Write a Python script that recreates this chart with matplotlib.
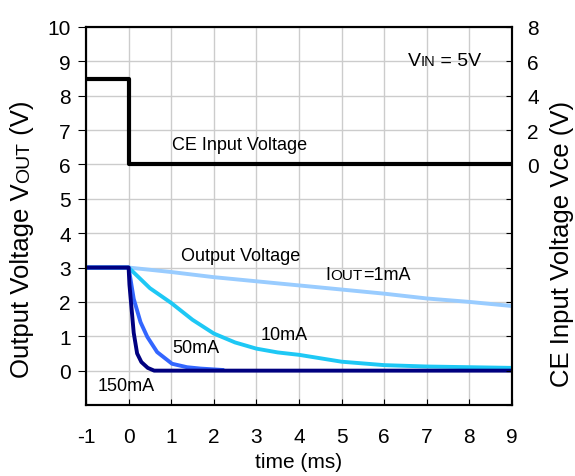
import numpy as np
import matplotlib
matplotlib.use("Agg")
import matplotlib.pyplot as plt
import matplotlib.transforms as mtransforms

plt.rcParams['font.family'] = ['Liberation Sans', 'DejaVu Sans']
plt.rcParams['axes.unicode_minus'] = False

# CE input voltage (right axis, V)
t_ce = [-1, 0, 0, 9]
v_ce = [5, 5, 0, 0]

# output voltage curves (left axis, V)
t_1ma = [-1, 0, 1, 2, 3, 4, 5, 6, 7, 8, 9]
v_1ma = [3.0, 3.0, 2.87, 2.72, 2.6, 2.48, 2.36, 2.24, 2.1, 2.0, 1.88]

t_10ma = [-1, 0, 0.5, 1, 1.5, 2, 2.5, 3, 3.5, 4, 5, 6, 7, 8, 9]
v_10ma = [3.0, 3.0, 2.4, 1.97, 1.48, 1.08, 0.82, 0.64, 0.53, 0.46, 0.26, 0.16, 0.12, 0.1, 0.08]

t_50ma = [-1, 0, 0.12, 0.28, 0.44, 0.67, 1.02, 1.37, 1.69, 2.2]
v_50ma = [3.0, 3.0, 2.09, 1.41, 0.98, 0.54, 0.2, 0.1, 0.06, 0.02]

t_150ma = [-1, 0, 0.02, 0.07, 0.12, 0.2, 0.3, 0.45, 0.6, 9]
v_150ma = [3.0, 3.0, 2.5, 1.8, 1.1, 0.5, 0.25, 0.08, 0.0, 0.0]

x_ticks = list(range(-1, 10))
left_ticks = list(range(0, 11))
right_ticks = list(range(-14, 9, 2))
right_labels = [str(v) if v >= 0 else '' for v in right_ticks]

fig = plt.figure(figsize=(5.75, 4.77), dpi=100)
ax = fig.add_axes([86 / 575, 1 - 406 / 477, 426 / 575, 378 / 477])

ax.set_xlim(-1, 9)
ax.set_ylim(-1, 10)
ax.set_xticks(x_ticks)
ax.set_yticks(left_ticks)
ax.grid(True, color='#cccccc', lw=1)
ax.set_axisbelow(True)
ax.tick_params(axis='x', direction='in', length=4, pad=16, labelsize=15)
ax.tick_params(axis='y', direction='out', length=6, pad=5, labelsize=15)

ax.plot(t_1ma, v_1ma, color='#99ccff', lw=2.8, zorder=3)
ax.plot(t_10ma, v_10ma, color='#1ec8f5', lw=2.8, zorder=4)
ax.plot(t_50ma, v_50ma, color='#3366ff', lw=2.8, zorder=5)
ax.plot(t_150ma, v_150ma, color='#000080', lw=2.8, zorder=6)

ax2 = ax.twinx()
ax2.set_ylim(-14, 8)
ax2.set_yticks(right_ticks)
ax2.set_yticklabels(right_labels)
ax2.tick_params(axis='y', direction='in', length=4, pad=11, labelsize=15)
ax2.plot(t_ce, v_ce, color='black', lw=3)

for a in (ax, ax2):
    for s in a.spines.values():
        s.set_linewidth(1.5)

ax.set_xlabel('time (ms)', fontsize=15, labelpad=4)

fig.canvas.draw()
renderer = fig.canvas.get_renderer()


def rich(x, y, parts, transform, rotation=0):
    # lay text pieces of different sizes along one baseline
    off = 0
    for s, size in parts:
        if rotation:
            tr = mtransforms.offset_copy(transform, fig=fig, x=0, y=off, units='dots')
        else:
            tr = mtransforms.offset_copy(transform, fig=fig, x=off, y=0, units='dots')
        t = fig.text(x, y, s, transform=tr, fontsize=size, rotation=rotation,
                     rotation_mode='anchor', ha='left', va='baseline')
        bb = t.get_window_extent(renderer)
        off += bb.height if rotation else bb.width


def text_len(parts):
    total = 0
    for s, size in parts:
        t = fig.text(0, 0, s, fontsize=size)
        total += t.get_window_extent(renderer).width
        t.remove()
    return total


ylab = [('Output Voltage V', 18.5), ('OUT', 14), (' (V)', 18.5)]
L = text_len(ylab)
rich(29 / 575, ((477 - 239) - L / 2) / 477, ylab, fig.transFigure, rotation=90)

rlab = [('CE Input Voltage Vce (V)', 18.5)]
L = text_len(rlab)
rich(569 / 575, ((477 - 244) - L / 2) / 477, rlab, fig.transFigure, rotation=90)

rich(6.55, 8.88, [('V', 14), ('IN', 10.5), (' = 5V', 14)], ax.transData)
rich(4.62, 2.67, [('I', 13), ('OUT', 11), ('=1mA', 13)], ax.transData)

ax.text(1.03, 6.45, 'CE Input Voltage', fontsize=13, ha='left', va='baseline')
ax.text(1.22, 3.21, 'Output Voltage', fontsize=13, ha='left', va='baseline')
ax.text(3.1, 0.93, '10mA', fontsize=13, ha='left', va='baseline', zorder=7)
ax.text(1.03, 0.54, '50mA', fontsize=13, ha='left', va='baseline', zorder=7)
ax.text(-0.73, -0.57, '150mA', fontsize=13, ha='left', va='baseline')

fig.savefig('out.png', dpi=100)
